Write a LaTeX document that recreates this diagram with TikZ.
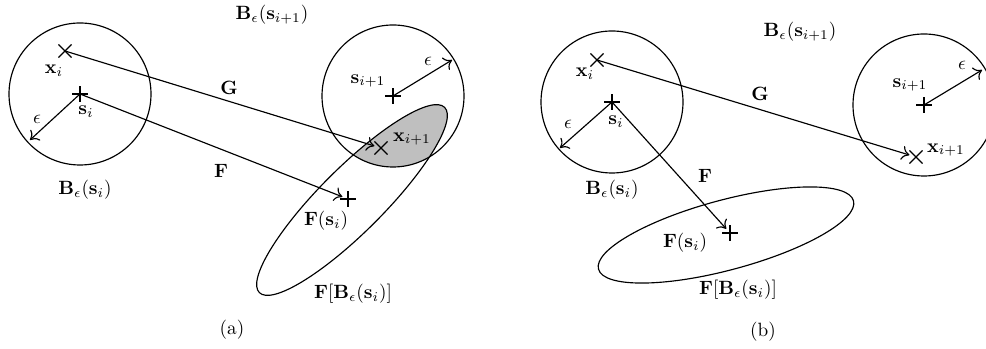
\documentclass[tikz,border=0pt]{standalone}
\usetikzlibrary{shapes.misc,arrows.meta}
\begin{document}
\begin{tikzpicture}[x=0.52pt,y=-0.52pt, line width=0.6pt,
  xmark/.style={draw,shape=cross out,minimum size=6.2pt,inner sep=0pt,line width=0.6pt},
  pmark/.style={draw,shape=cross out,rotate=45,minimum size=5.2pt,inner sep=0pt,line width=0.6pt},
  lbl/.style={inner sep=0.5pt},
  >={To[length=4pt,width=7.5pt]},
  ball/.style={draw,line width=0.6pt},
  shade/.style={fill=black!25}]
\useasboundingbox (0,0) rectangle (986,349);

% ---------------- panel (a) ----------------
\coordinate (La) at (80,94);
\coordinate (Ra) at (393,96);
\coordinate (Ea) at (352,200);
% shaded intersection
\begin{scope}
  \clip (Ra) circle [radius=71];
  \fill[shade, rotate around={45:(Ea)}] (Ea) ellipse [x radius=131, y radius=32];
\end{scope}
\draw[ball] (La) circle [radius=71];
\draw[ball] (Ra) circle [radius=71];
\draw[ball, rotate around={45:(Ea)}] (Ea) ellipse [x radius=131, y radius=32];

\node[xmark] (xa) at (65,51) {};
\node[pmark] (sa) at (La) {};
\node[xmark] (xa1) at (381,148) {};
\node[pmark] (Fsa) at (348,199) {};
\node[pmark] (sa1) at (Ra) {};
\coordinate (epa) at (30,140);
\coordinate (epa1) at (452,60);

\draw[->] (xa.center) -- (xa1);
\draw[->] (sa.center) -- (Fsa);
\draw[->] (sa.center) -- (epa);
\draw[->] (sa1.center) -- (epa1);

\node[lbl] (la1) at (272,15) {$\mathbf{B}_\epsilon(\mathbf{s}_{i+1})$};
\node[lbl] (la2) at (54,71) {$\mathbf{x}_i$};
\node[lbl] (la3) at (86,112) {$\mathbf{s}_i$};
\node[lbl] (la4) at (37,119) {$\epsilon$};
\node[lbl] (la5) at (85,190) {$\mathbf{B}_\epsilon(\mathbf{s}_i)$};
\node[lbl] (la6) at (229,88) {$\mathbf{G}$};
\node[lbl] (la7) at (221,171) {$\mathbf{F}$};
\node[lbl] (la8) at (326,221) {$\mathbf{F}(\mathbf{s}_i)$};
\node[lbl] (la9) at (368,81) {$\mathbf{s}_{i+1}$};
\node[lbl] (la10) at (428,61) {$\epsilon$};
\node[lbl] (la11) at (412,139) {$\mathbf{x}_{i+1}$};
\node[lbl] (la12) at (353,294) {$\mathbf{F}[\mathbf{B}_\epsilon(\mathbf{s}_i)]$};
\node[lbl] (la13) at (232,330) {(a)};

% ---------------- panel (b) ----------------
\coordinate (Lb) at (612,102);
\coordinate (Rb) at (924,105);
\coordinate (Eb) at (726,235);
\draw[ball] (Lb) circle [radius=71];
\draw[ball] (Rb) circle [radius=71];
\draw[ball, rotate around={15:(Eb)}] (Eb) ellipse [x radius=132, y radius=35];

\node[xmark] (xb) at (597,60) {};
\node[pmark] (sb) at (Lb) {};
\node[xmark] (xb1) at (916,157) {};
\node[pmark] (Fsb) at (730,233) {};
\node[pmark] (sb1) at (Rb) {};
\coordinate (epb) at (560,148);
\coordinate (epb1) at (982,70);

\draw[->] (xb.center) -- (xb1);
\draw[->] (sb.center) -- (Fsb);
\draw[->] (sb.center) -- (epb);
\draw[->] (sb1.center) -- (epb1);

\node[lbl] (lb1) at (800,32) {$\mathbf{B}_\epsilon(\mathbf{s}_{i+1})$};
\node[lbl] (lb2) at (585,74) {$\mathbf{x}_i$};
\node[lbl] (lb3) at (616,122) {$\mathbf{s}_i$};
\node[lbl] (lb4) at (568,124) {$\epsilon$};
\node[lbl] (lb5) at (612,190) {$\mathbf{B}_\epsilon(\mathbf{s}_i)$};
\node[lbl] (lb6) at (760,94) {$\mathbf{G}$};
\node[lbl] (lb7) at (705,176) {$\mathbf{F}$};
\node[lbl] (lb8) at (685,243) {$\mathbf{F}(\mathbf{s}_i)$};
\node[lbl] (lb9) at (910,85) {$\mathbf{s}_{i+1}$};
\node[lbl] (lb10) at (962,65) {$\epsilon$};
\node[lbl] (lb11) at (946,150) {$\mathbf{x}_{i+1}$};
\node[lbl] (lb12) at (738,290) {$\mathbf{F}[\mathbf{B}_\epsilon(\mathbf{s}_i)]$};
\node[lbl] (lb13) at (763,332) {(b)};
\end{tikzpicture}
\end{document}
